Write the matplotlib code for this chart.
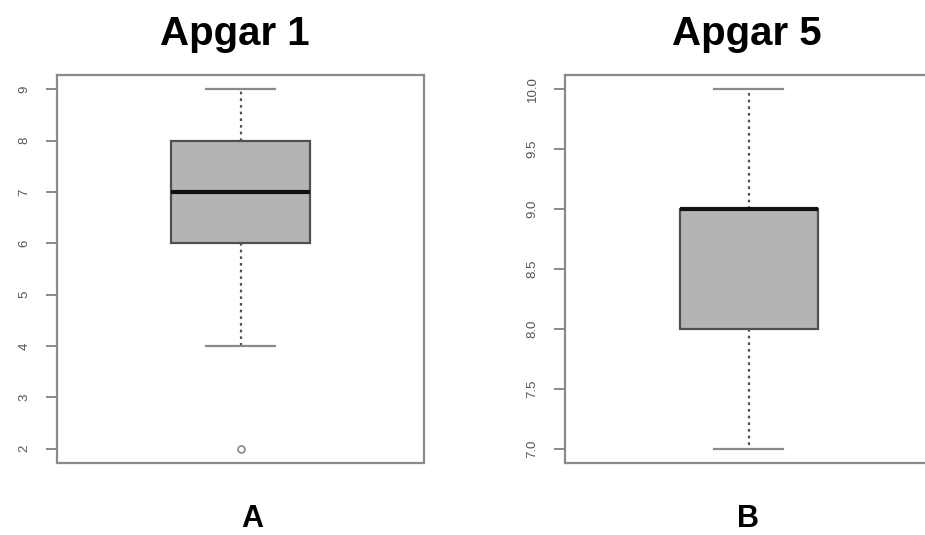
import matplotlib.pyplot as plt

plt.rcParams['font.family'] = ['Liberation Sans', 'DejaVu Sans']

# Apgar scores summary (five-number summaries)
titles = ['Apgar 1', 'Apgar 5']
panel_labels = ['A', 'B']
whislo = [4, 7]
q1 = [6, 8]
med = [7, 9]
q3 = [8, 9]
whishi = [9, 10]
fliers = [[2], []]
yticks = [[2, 3, 4, 5, 6, 7, 8, 9], [7.0, 7.5, 8.0, 8.5, 9.0, 9.5, 10.0]]
yticklabels = [['2', '3', '4', '5', '6', '7', '8', '9'],
               ['7.0', '7.5', '8.0', '8.5', '9.0', '9.5', '10.0']]

fig = plt.figure(figsize=(9.25, 5.35), dpi=100)
lefts = [0.0616, 0.6108]
axes_w, axes_b, axes_h = 0.3968, 0.1346, 0.7252
title_x = [0.485, 0.496]
label_x = [0.531, 0.499]

spine_col = '#8a8a8a'
for i in range(2):
    ax = fig.add_axes([lefts[i], axes_b, axes_w, axes_h])
    stats = [dict(whislo=whislo[i], q1=q1[i], med=med[i], q3=q3[i],
                  whishi=whishi[i], fliers=fliers[i])]
    ax.bxp(stats, positions=[1], widths=0.376, patch_artist=True,
           boxprops=dict(facecolor='#b4b4b4', edgecolor='#505050', linewidth=1.6),
           medianprops=dict(color='#111111', linewidth=3),
           whiskerprops=dict(color='#505050', linewidth=1.6, linestyle=(0, (1.2, 1.8))),
           capprops=dict(color='#8a8a8a', linewidth=1.6),
           capwidths=0.19,
           flierprops=dict(marker='o', markersize=5, markerfacecolor='none',
                           markeredgecolor='#8a8a8a', markeredgewidth=1.2))
    ymin, ymax = min(yticks[i]), max(yticks[i])
    pad = (ymax - ymin) * 0.04
    ax.set_ylim(ymin - pad, ymax + pad)
    ax.set_xlim(0.5, 1.5)
    ax.set_xticks([])
    ax.set_yticks(yticks[i])
    ax.set_yticklabels(yticklabels[i], rotation=90, va='center',
                       color='#555555', fontsize=9.5)
    ax.tick_params(axis='y', length=8, width=1.4, color=spine_col, pad=11)
    for s in ax.spines.values():
        s.set_color(spine_col)
        s.set_linewidth(1.6)
    ax.text(title_x[i], 1.105, titles[i], transform=ax.transAxes,
            ha='center', va='center', fontsize=29, fontweight='bold')
    ax.text(label_x[i], -0.145, panel_labels[i], transform=ax.transAxes,
            ha='center', va='center', fontsize=22, fontweight='bold')

fig.savefig('out.png', dpi=100)
